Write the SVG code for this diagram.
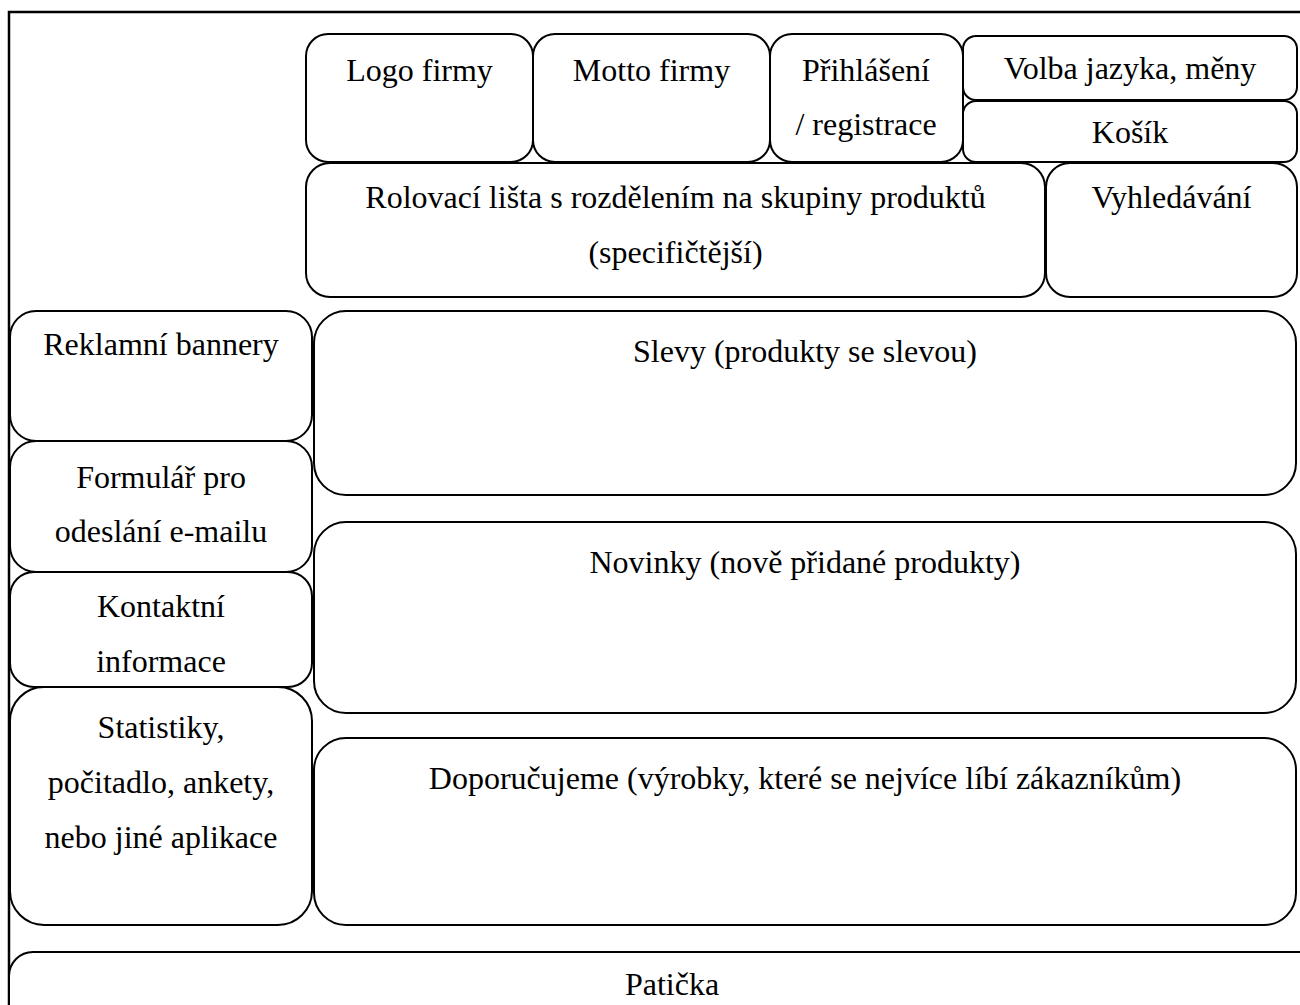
<svg xmlns="http://www.w3.org/2000/svg" width="1300" height="1005" viewBox="0 0 1300 1005">
<style>
.b{fill:#fff;stroke:#000;stroke-width:2}
.f{fill:none;stroke:#000;stroke-width:2.5}
text{font-family:"Liberation Serif","Times New Roman",serif;font-size:32px;fill:#000;text-anchor:middle}
</style>
<rect width="1300" height="1005" fill="#fff"/>
<rect id="frame" class="f" x="9" y="12" width="1340" height="1040"/>
<g id="logo"><rect class="b" x="306" y="34" width="227" height="128" rx="22"/><text x="419.5" y="81">Logo firmy</text></g>
<g id="motto"><rect class="b" x="533" y="34" width="237" height="128" rx="22"/><text x="651.5" y="81">Motto firmy</text></g>
<g id="prihlaseni"><rect class="b" x="770" y="34" width="193" height="128" rx="22"/><text x="866" y="81">Přihlášení</text><text x="866" y="135">/ registrace</text></g>
<g id="volba"><rect class="b" x="963" y="36" width="334" height="64" rx="13"/><text x="1130" y="79">Volba jazyka, měny</text></g>
<g id="kosik"><rect class="b" x="963" y="101" width="334" height="61" rx="13"/><text x="1130" y="143">Košík</text></g>
<g id="rolovaci"><rect class="b" x="306" y="163" width="739" height="134" rx="24"/><text x="675.5" y="208">Rolovací lišta s rozdělením na skupiny produktů</text><text x="675.5" y="263">(specifičtější)</text></g>
<g id="vyhledavani"><rect class="b" x="1046" y="163" width="251" height="134" rx="24"/><text x="1171.5" y="208">Vyhledávání</text></g>
<g id="reklamni"><rect class="b" x="10" y="311" width="302" height="130" rx="26"/><text x="161" y="355">Reklamní bannery</text></g>
<g id="formular"><rect class="b" x="10" y="441" width="302" height="131" rx="26"/><text x="161" y="488">Formulář pro</text><text x="161" y="542">odeslání e-mailu</text></g>
<g id="kontaktni"><rect class="b" x="10" y="572" width="302" height="115" rx="24"/><text x="161" y="617">Kontaktní</text><text x="161" y="672">informace</text></g>
<g id="statistiky"><rect class="b" x="10" y="687" width="302" height="238" rx="34"/><text x="161" y="738">Statistiky,</text><text x="161" y="793">počitadlo, ankety,</text><text x="161" y="848">nebo jiné aplikace</text></g>
<g id="slevy"><rect class="b" x="314" y="311" width="982" height="184" rx="32"/><text x="805" y="362">Slevy (produkty se slevou)</text></g>
<g id="novinky"><rect class="b" x="314" y="522" width="982" height="191" rx="32"/><text x="805" y="573">Novinky (nově přidané produkty)</text></g>
<g id="doporucujeme"><rect class="b" x="314" y="738" width="982" height="187" rx="32"/><text x="805" y="789">Doporučujeme (výrobky, které se nejvíce líbí zákazníkům)</text></g>
<g id="paticka"><rect class="b" x="9" y="952" width="1330" height="100" rx="24"/><text x="672" y="995">Patička</text></g>
<g id="connectors"/>
</svg>
